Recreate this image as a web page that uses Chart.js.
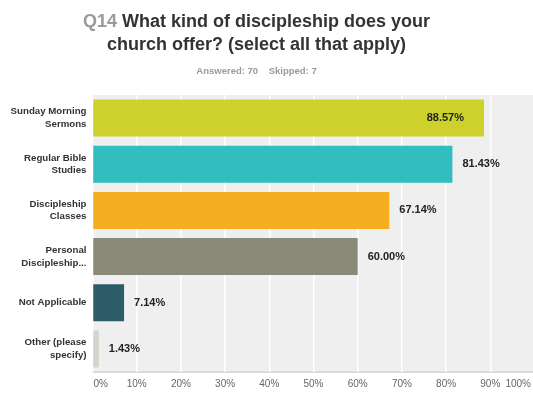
<!DOCTYPE html>
<html lang="en">
<head>
    <meta charset="UTF-8">
    <title>Q14 Discipleship</title>
    <script src="https://cdn.jsdelivr.net/npm/chart.js"></script>
    <style>
        html, body {
            margin: 0;
            padding: 0;
            width: 533px;
            height: 394px;
            overflow: hidden;
            background: #fff;
            font-family: "Liberation Sans", Arial, sans-serif;
        }
        .wrap {
            position: relative;
            width: 540px;
            height: 394px;
        }
        .title {
            position: absolute;
            left: 0;
            width: 513px;
            top: 10px;
            text-align: center;
            font-weight: bold;
            font-size: 18px;
            line-height: 22.5px;
            color: #333;
        }
        .title .qnum { color: #9a9a9a; }
        .sub {
            position: absolute;
            left: 0;
            width: 513px;
            top: 65px;
            text-align: center;
            font-weight: bold;
            font-size: 9.5px;
            color: #9a9a9a;
        }
        canvas { position: absolute; left: 0; top: 0; }
    </style>
</head>
<body>
<div class="wrap">
    <canvas id="barChart" width="540" height="394"></canvas>
    <div class="title"><span class="qnum">Q14</span> What kind of discipleship does your<br>church offer? (select all that apply)</div>
    <div class="sub">Answered: 70 &nbsp;&nbsp; Skipped: 7</div>
</div>
<script>
    // answer options (wrapped in two lines as on the axis)
    const categories = [
        ["Sunday Morning", "Sermons"],
        ["Regular Bible", "Studies"],
        ["Discipleship", "Classes"],
        ["Personal", "Discipleship..."],
        ["Not Applicable"],
        ["Other (please", "specify)"]
    ];
    const percents = [88.57, 81.43, 67.14, 60.00, 7.14, 1.43];
    const barColors = ["#ccd22b", "#32bdbe", "#f6ac1f", "#8a8a7b", "#2e5d6a", "#d4d4cc"];
    const xTicks = [0, 10, 20, 30, 40, 50, 60, 70, 80, 90, 100];

    // grey plot background + bottom rule
    const plotBg = {
        id: "plotBg",
        beforeDraw(chart) {
            const { ctx, chartArea: a } = chart;
            ctx.save();
            ctx.fillStyle = "#efefef";
            ctx.fillRect(a.left, a.top, a.right - a.left, a.bottom - a.top);
            ctx.fillStyle = "#dadada";
            ctx.fillRect(a.left, a.bottom - 1, a.right - a.left, 2);
            ctx.restore();
        }
    };

    // percent labels on the bars and along the x axis
    const labelsPlugin = {
        id: "labelsPlugin",
        afterDatasetsDraw(chart) {
            const ctx = chart.ctx;
            const meta = chart.getDatasetMeta(0);
            ctx.save();
            ctx.font = "bold 11px 'Liberation Sans', Arial, sans-serif";
            ctx.fillStyle = "#222";
            ctx.textBaseline = "middle";
            meta.data.forEach((bar, i) => {
                const txt = percents[i].toFixed(2) + "%";
                if (percents[i] > 85) {
                    ctx.textAlign = "right";
                    ctx.fillText(txt, bar.x - 20, bar.y);
                } else {
                    ctx.textAlign = "left";
                    ctx.fillText(txt, bar.x + 10, bar.y);
                }
            });

            // keep the end labels inside the plot width
            const xs = chart.scales.x;
            ctx.font = "10px 'Liberation Sans', Arial, sans-serif";
            ctx.fillStyle = "#666";
            ctx.textAlign = "center";
            xTicks.forEach(v => {
                const txt = v + "%";
                const w = ctx.measureText(txt).width;
                let px = xs.getPixelForValue(v);
                px = Math.max(px, xs.left + w / 2 + 1);
                px = Math.min(px, 531 - w / 2);
                ctx.fillText(txt, px, 384);
            });
            ctx.restore();
        }
    };

    new Chart(document.getElementById("barChart").getContext("2d"), {
        type: "bar",
        data: {
            labels: categories,
            datasets: [{
                data: percents,
                backgroundColor: barColors,
                borderWidth: 0,
                categoryPercentage: 1,
                barPercentage: 0.8
            }]
        },
        options: {
            indexAxis: "y",
            responsive: false,
            animation: false,
            layout: { padding: { top: 95, bottom: 22, left: 0, right: 5.5 } },
            plugins: {
                legend: { display: false },
                tooltip: { enabled: false }
            },
            scales: {
                x: {
                    min: 0,
                    max: 100,
                    ticks: { display: false, stepSize: 10 },
                    grid: { color: "#ffffff", lineWidth: 1.5, drawTicks: false },
                    border: { display: false }
                },
                y: {
                    grid: { display: false, drawTicks: false },
                    border: { display: false },
                    ticks: {
                        color: "#333",
                        padding: 6,
                        font: { family: "'Liberation Sans', Arial, sans-serif", size: 9.7, weight: "bold", lineHeight: 1.3 }
                    },
                    afterFit(scale) { scale.width = 92.5; }
                }
            }
        },
        plugins: [plotBg, labelsPlugin]
    });
</script>
</body>
</html>
